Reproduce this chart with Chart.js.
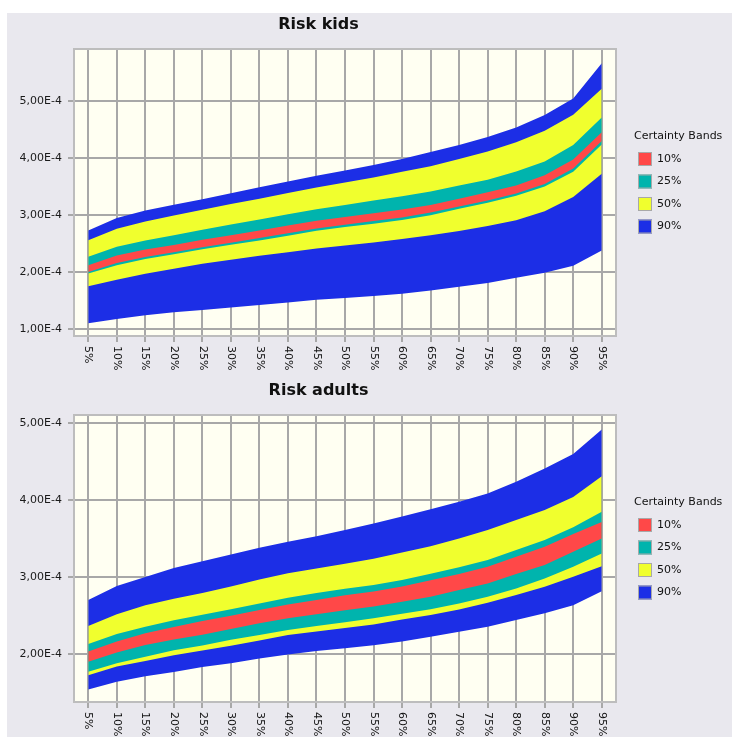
<!DOCTYPE html>
<html>
<head>
<meta charset="utf-8">
<script src="https://cdn.jsdelivr.net/npm/chart.js@4.4.1/dist/chart.umd.min.js"></script>
<style>
  html, body { margin: 0; padding: 0; background: #ffffff; }
  #panel { position: absolute; left: 7px; top: 13px; width: 725px; height: 724px; background: #e9e8ee; overflow: hidden; }
  canvas { position: absolute; left: 0; }
  #kids { top: 0; }
  #adults { top: 357px; }
</style>
</head>
<body>
<div id="panel">
  <canvas id="kids" width="725" height="357"></canvas>
  <canvas id="adults" width="725" height="367"></canvas>
</div>
<script>
// x axis categories (percentiles)
const percentiles = ['5%', '10%', '15%', '20%', '25%', '30%', '35%', '40%', '45%', '50%',
    '55%', '60%', '65%', '70%', '75%', '80%', '85%', '90%', '95%'];

// certainty bands, innermost first
const bandNames = ['10%', '25%', '50%', '90%'];
const bandColors = ['#ff4848', '#00b4ad', '#f0ff2e', '#1c2ee6'];

// y ticks, values are in units of 1E-4
const kidsTicks = [1, 2, 3, 4, 5];
const adultsTicks = [2, 3, 4, 5];

// Risk kids - upper / lower edge of each band (1E-4)
const kids10hi = [2.12, 2.29, 2.397, 2.477, 2.568, 2.647, 2.732, 2.82, 2.90, 2.965, 3.035, 3.10, 3.18, 3.287, 3.404, 3.52, 3.70, 3.975, 4.456];
const kids10lo = [2.00, 2.16, 2.263, 2.348, 2.438, 2.515, 2.597, 2.68, 2.765, 2.83, 2.895, 2.96, 3.045, 3.152, 3.257, 3.38, 3.545, 3.82, 4.30];
const kids25hi = [2.27, 2.445, 2.553, 2.647, 2.743, 2.835, 2.922, 3.015, 3.105, 3.18, 3.255, 3.33, 3.415, 3.52, 3.62, 3.766, 3.94, 4.23, 4.713];
const kids25lo = [1.975, 2.12, 2.228, 2.313, 2.40, 2.48, 2.556, 2.64, 2.725, 2.79, 2.85, 2.915, 3.00, 3.11, 3.216, 3.339, 3.505, 3.76, 4.24];
const kids50hi = [2.56, 2.76, 2.89, 2.995, 3.095, 3.195, 3.288, 3.39, 3.485, 3.575, 3.66, 3.76, 3.86, 3.988, 4.117, 4.281, 4.48, 4.765, 5.22];
const kids50lo = [1.75, 1.865, 1.97, 2.06, 2.145, 2.215, 2.285, 2.35, 2.415, 2.465, 2.52, 2.58, 2.645, 2.72, 2.81, 2.91, 3.07, 3.32, 3.725];
const kids90hi = [2.73, 2.95, 3.08, 3.183, 3.277, 3.385, 3.488, 3.59, 3.69, 3.785, 3.88, 3.985, 4.11, 4.234, 4.374, 4.538, 4.76, 5.05, 5.667];
const kids90lo = [1.10, 1.175, 1.243, 1.293, 1.334, 1.378, 1.422, 1.467, 1.512, 1.545, 1.578, 1.618, 1.675, 1.74, 1.81, 1.90, 1.99, 2.11, 2.38];

// Risk adults - upper / lower edge of each band (1E-4)
const adults10hi = [2.03, 2.16, 2.265, 2.348, 2.425, 2.495, 2.568, 2.642, 2.70, 2.76, 2.81, 2.875, 2.955, 3.037, 3.132, 3.262, 3.393, 3.56, 3.714];
const adults10lo = [1.895, 2.015, 2.113, 2.184, 2.248, 2.32, 2.395, 2.46, 2.515, 2.565, 2.615, 2.675, 2.742, 2.829, 2.915, 3.037, 3.154, 3.328, 3.50];
const adults25hi = [2.126, 2.255, 2.351, 2.435, 2.507, 2.58, 2.655, 2.729, 2.79, 2.845, 2.895, 2.96, 3.04, 3.124, 3.219, 3.349, 3.479, 3.645, 3.848];
const adults25lo = [1.765, 1.876, 1.96, 2.045, 2.108, 2.18, 2.243, 2.308, 2.36, 2.41, 2.46, 2.52, 2.58, 2.655, 2.742, 2.85, 2.98, 3.132, 3.306];
const adults50hi = [2.36, 2.515, 2.63, 2.717, 2.79, 2.875, 2.965, 3.046, 3.11, 3.17, 3.235, 3.316, 3.40, 3.50, 3.61, 3.74, 3.87, 4.04, 4.31];
const adults50lo = [1.72, 1.832, 1.905, 1.98, 2.042, 2.105, 2.172, 2.243, 2.29, 2.335, 2.38, 2.445, 2.503, 2.577, 2.664, 2.764, 2.872, 3.002, 3.14];
const adults90hi = [2.70, 2.88, 3.00, 3.115, 3.205, 3.29, 3.38, 3.458, 3.53, 3.61, 3.695, 3.785, 3.88, 3.978, 4.087, 4.239, 4.412, 4.60, 4.918];
const adults90lo = [1.535, 1.635, 1.707, 1.763, 1.826, 1.877, 1.939, 1.991, 2.035, 2.07, 2.11, 2.16, 2.221, 2.286, 2.351, 2.438, 2.525, 2.63, 2.813];

const FONT = '"DejaVu Sans", Verdana, sans-serif';
const GRID = '#a8a8a8';

function fmtTick(v) {
    return v.toFixed(2).replace('.', ',') + 'E-4';
}

// each band = hi line filled down to its lo line
function bandDatasets(bands) {
    const sets = [];
    bands.forEach((b, i) => {
        sets.push({ label: bandNames[i], data: b[0], fill: '+1', backgroundColor: bandColors[i],
            borderColor: 'transparent', borderWidth: 0, pointRadius: 0, tension: 0 });
        sets.push({ label: bandNames[i] + ' lo', data: b[1], fill: false,
            borderColor: 'transparent', borderWidth: 0, pointRadius: 0, tension: 0 });
    });
    return sets;
}

// plot background, frame, title, rotated x labels and the legend
function decorations(title) {
    return {
        id: 'decorations',
        beforeDraw(chart) {
            const a = chart.chartArea, ctx = chart.ctx;
            ctx.save();
            ctx.fillStyle = '#fffff2';
            ctx.fillRect(a.left, a.top, a.right - a.left, a.bottom - a.top);
            ctx.restore();
        },
        afterDraw(chart) {
            const a = chart.chartArea, ctx = chart.ctx;
            ctx.save();
            ctx.strokeStyle = '#bdbdbd';
            ctx.lineWidth = 2;
            ctx.strokeRect(a.left, a.top, a.right - a.left, a.bottom - a.top);

            ctx.fillStyle = '#111';
            ctx.font = 'bold 16px ' + FONT;
            ctx.textAlign = 'center';
            ctx.textBaseline = 'middle';
            ctx.fillText(title, (a.right + 14) / 2, a.top - 24.5);

            // x labels, read top to bottom
            const xs = chart.scales.x;
            ctx.font = '11px ' + FONT;
            ctx.textAlign = 'left';
            percentiles.forEach((lab, i) => {
                ctx.save();
                ctx.translate(xs.getPixelForTick(i), a.bottom + 10);
                ctx.rotate(Math.PI / 2);
                ctx.fillText(lab, 0, 0);
                ctx.restore();
            });

            // legend
            const mid = (a.top + a.bottom) / 2;
            ctx.fillText('Certainty Bands', a.right + 18, mid - 56.5);
            bandNames.forEach((n, i) => {
                const y = mid - 33.5 + i * 22.5;
                ctx.fillStyle = bandColors[i];
                ctx.fillRect(a.right + 22, y - 7, 14, 14);
                ctx.strokeStyle = '#a8a8a8';
                ctx.lineWidth = 1;
                ctx.strokeRect(a.right + 22.5, y - 6.5, 13, 13);
                ctx.fillStyle = '#111';
                ctx.fillText(n, a.right + 41, y);
            });
            ctx.restore();
        }
    };
}

function makeChart(id, title, bands, yMin, yMax, ticks, padTop, xHeight) {
    return new Chart(document.getElementById(id), {
        type: 'line',
        data: { labels: percentiles, datasets: bandDatasets(bands) },
        options: {
            responsive: false,
            animation: false,
            layout: { padding: { top: padTop, right: 116, left: 0, bottom: 0 } },
            plugins: { legend: { display: false }, tooltip: { enabled: false } },
            scales: {
                x: {
                    type: 'category',
                    offset: true,
                    grid: { offset: false, color: GRID, lineWidth: 2, tickLength: 6 },
                    border: { display: false },
                    ticks: { display: false },
                    afterFit: s => { s.height = xHeight; }
                },
                y: {
                    min: yMin,
                    max: yMax,
                    grid: { color: GRID, lineWidth: 2, tickLength: 6 },
                    border: { display: false },
                    afterBuildTicks: s => { s.ticks = ticks.map(v => ({ value: v })); },
                    ticks: { padding: 6, color: '#1a1a1a', font: { family: FONT, size: 11 }, callback: v => fmtTick(v) },
                    afterFit: s => { s.width = 67; }
                }
            }
        },
        plugins: [decorations(title)]
    });
}

makeChart('kids', 'Risk kids',
    [[kids10hi, kids10lo], [kids25hi, kids25lo], [kids50hi, kids50lo], [kids90hi, kids90lo]],
    0.877, 5.918, kidsTicks, 36, 34);

makeChart('adults', 'Risk adults',
    [[adults10hi, adults10lo], [adults25hi, adults25lo], [adults50hi, adults50lo], [adults90hi, adults90lo]],
    1.371, 5.108, adultsTicks, 45, 35);
</script>
</body>
</html>
